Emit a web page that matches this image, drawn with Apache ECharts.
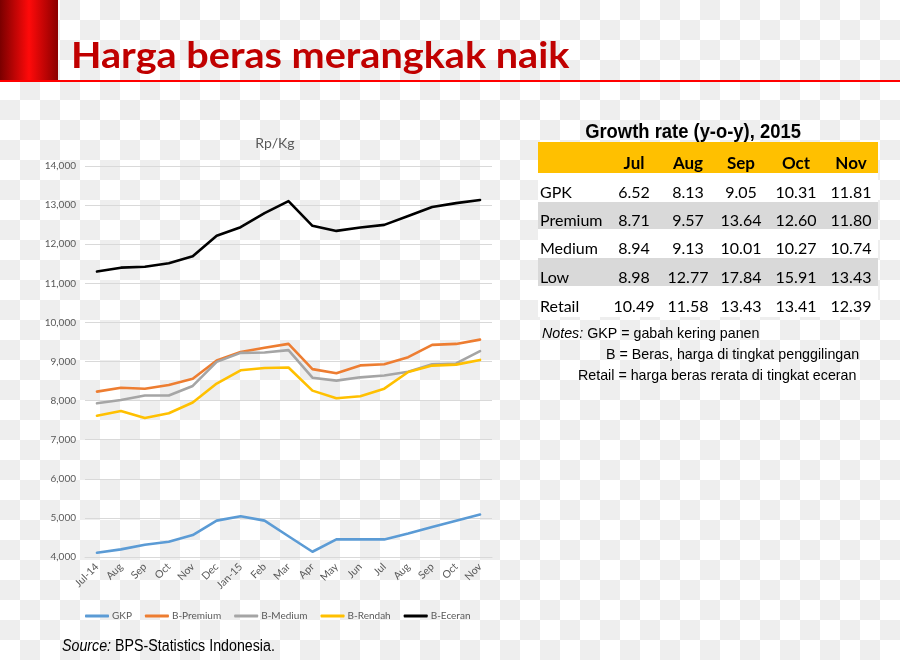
<!DOCTYPE html>
<html>
<head>
<meta charset="utf-8">
<script src="https://cdn.jsdelivr.net/npm/echarts@6/dist/echarts.min.js"></script>
<style>
html,body{margin:0;padding:0;}
body{width:900px;height:660px;background-color:#ffffff;background-image:repeating-conic-gradient(#eeeeee 0 25%, #ffffff 0 50%);background-size:40px 40px;}
#chart{width:900px;height:660px;}
</style>
</head>
<body>
<div id="chart"></div>
<script>
// ---- chart data ----
var categories = ['Jul-14','Aug','Sep','Oct','Nov','Dec','Jan-15','Feb','Mar','Apr','May','Jun','Jul','Aug','Sep','Oct','Nov'];
var seriesNames = ['GKP','B-Premium','B-Medium','B-Rendah','B-Eceran'];
var gkp     = [4110,4195,4315,4390,4560,4930,5040,4930,4530,4135,4450,4450,4450,4600,4770,4930,5085];
var premium = [8230,8330,8305,8400,8560,9025,9245,9350,9450,8805,8700,8900,8930,9110,9425,9450,9560];
var medium  = [7930,8015,8130,8130,8375,8990,9220,9230,9290,8585,8510,8595,8640,8740,8930,8950,9265];
var rendah  = [7615,7735,7555,7675,7950,8435,8775,8835,8845,8255,8060,8110,8305,8730,8895,8920,9040];
var eceran  = [11300,11400,11425,11515,11690,12215,12435,12795,13100,12470,12340,12425,12495,12720,12950,13050,13130];
var yTicks  = [4000,5000,6000,7000,8000,9000,10000,11000,12000,13000,14000];

// ---- table data ----
var tableTitle = 'Growth rate (y-o-y), 2015';
var tableMonths = ['Jul','Aug','Sep','Oct','Nov'];
var tableRowLabels = ['GPK','Premium','Medium','Low','Retail'];
var growthGPK     = ['6.52','8.13','9.05','10.31','11.81'];
var growthPremium = ['8.71','9.57','13.64','12.60','11.80'];
var growthMedium  = ['8.94','9.13','10.01','10.27','10.74'];
var growthLow     = ['8.98','12.77','17.84','15.91','13.43'];
var growthRetail  = ['10.49','11.58','13.43','13.41','12.39'];
var growthRows = [growthGPK, growthPremium, growthMedium, growthLow, growthRetail];

var colors = ['#5b9bd5','#ed7d31','#a5a5a5','#ffc000','#000000'];
var seriesData = [gkp, premium, medium, rendah, eceran];

var chart = echarts.init(document.getElementById('chart'), null, {renderer:'canvas'});

var graphics = [];
// slide header
graphics.push({type:'rect', shape:{x:0,y:0,width:58,height:81},
  style:{fill:new echarts.graphic.LinearGradient(0,0,1,0,[
    {offset:0,color:'#7a0000'},{offset:0.5,color:'#ff0a0a'},{offset:1,color:'#8a0000'}])}, z:10});
graphics.push({type:'rect', shape:{x:0,y:80,width:900,height:2}, style:{fill:'#ff0000'}, z:10});
graphics.push({type:'text', x:71, y:56, scaleX:1.1, z:10,
  style:{text:'Harga beras merangkak naik', fill:'#c00000', font:'bold 36px Lato',
         textAlign:'left', textVerticalAlign:'middle'}});
// table
var colX = [634,688,741,796,851];
var rowTop = [173,202,229,258,286];
var rowBottom = [202,229,258,286,317];
var rowY = [193,221,249,278,307];
graphics.push({type:'text', x:693, y:132, scaleX:0.92, z:10,
  style:{text:tableTitle, fill:'#000', font:'bold 20px "Liberation Sans"',
         textAlign:'center', textVerticalAlign:'middle'}});
graphics.push({type:'rect', shape:{x:538,y:142,width:340,height:31}, style:{fill:'#ffc000'}, z:5});
for (var c=0;c<tableMonths.length;c++){
  graphics.push({type:'text', x:colX[c], y:164, z:10,
    style:{text:tableMonths[c], fill:'#000', font:'bold 17px Lato', textAlign:'center', textVerticalAlign:'middle'}});
}
for (var r=0;r<tableRowLabels.length;r++){
  graphics.push({type:'rect', shape:{x:538,y:rowTop[r],width:340,height:rowBottom[r]-rowTop[r]},
    style:{fill:(r%2===1)?'#d9d9d9':'#ffffff'}, z:5});
  graphics.push({type:'text', x:540, y:rowY[r], z:10,
    style:{text:tableRowLabels[r], fill:'#000', font:'16px Lato', textAlign:'left', textVerticalAlign:'middle'}});
  for (var c2=0;c2<tableMonths.length;c2++){
    graphics.push({type:'text', x:colX[c2], y:rowY[r], z:10,
      style:{text:growthRows[r][c2], fill:'#000', font:'16px Lato', textAlign:'center', textVerticalAlign:'middle'}});
  }
}
// notes
graphics.push({type:'text', x:542, y:334, scaleX:0.95, z:10,
  style:{text:'{i|Notes:} GKP = gabah kering panen', fill:'#000', font:'15px "Liberation Sans"',
    textAlign:'left', textVerticalAlign:'middle',
    rich:{i:{fontStyle:'italic', fontSize:15, fontFamily:'Liberation Sans', fill:'#000'}}}});
graphics.push({type:'text', x:606, y:355, scaleX:0.95, z:10,
  style:{text:'B = Beras, harga di tingkat penggilingan', fill:'#000', font:'15px "Liberation Sans"',
    textAlign:'left', textVerticalAlign:'middle'}});
graphics.push({type:'text', x:578, y:376, scaleX:0.95, z:10,
  style:{text:'Retail = harga beras rerata di tingkat eceran', fill:'#000', font:'15px "Liberation Sans"',
    textAlign:'left', textVerticalAlign:'middle'}});
// source
graphics.push({type:'text', x:62, y:647, scaleX:0.89, z:10,
  style:{text:'{i|Source:} BPS-Statistics Indonesia.', fill:'#000', font:'16px "Liberation Sans"',
    textAlign:'left', textVerticalAlign:'middle',
    rich:{i:{fontStyle:'italic', fontSize:16, fontFamily:'Liberation Sans', fill:'#000'}}}});

var series = seriesNames.map(function(n,i){
  return {name:n, type:'line', data:seriesData[i], symbol:'none', smooth:false,
    lineStyle:{width:2.6, color:colors[i], cap:'round', join:'round'}, itemStyle:{color:colors[i]}, z:2+i};
});

chart.setOption({
  backgroundColor:'transparent',
  animation:false,
  color:colors,
  title:{text:'Rp/Kg', left:270, textAlign:'center', top:131,
    textStyle:{fontFamily:'Lato', fontSize:14, fontWeight:'normal', color:'#595959'}},
  grid:{left:85, right:408, top:166, bottom:103, containLabel:false},
  xAxis:{type:'category', data:categories, boundaryGap:true,
    axisLine:{show:true, lineStyle:{color:'#d9d9d9'}}, axisTick:{show:false},
    axisLabel:{rotate:45, margin:8, interval:0, color:'#595959', fontFamily:'Lato', fontSize:10.5}},
  yAxis:{type:'value', min:yTicks[0], max:yTicks[yTicks.length-1], interval:1000,
    axisLine:{show:false}, axisTick:{show:false},
    splitLine:{lineStyle:{color:'#d9d9d9', width:1}},
    axisLabel:{margin:9, color:'#595959', fontFamily:'Lato', fontSize:10,
      formatter:function(v){return v.toLocaleString('en-US');}}},
  legend:{data:seriesNames, left:80, top:606, icon:'roundRect', itemWidth:24, itemHeight:3, itemGap:13,
    textStyle:{color:'#595959', fontFamily:'Lato', fontSize:10, padding:[0,0,0,-2]}},
  graphic:graphics,
  series:series
});
</script>
</body>
</html>
